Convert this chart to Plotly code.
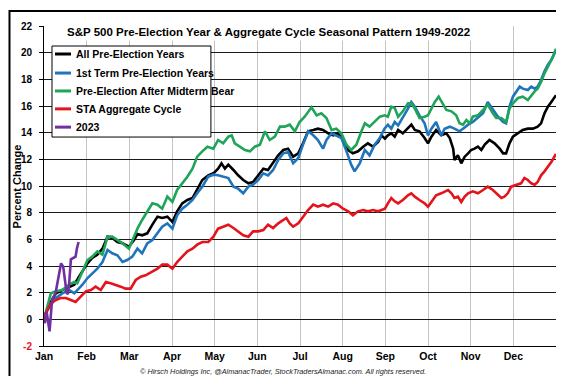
import plotly.graph_objects as go

# ---------------- data (x = position in months from Jan 1, y = % change) ----------------
months = ["Jan", "Feb", "Mar", "Apr", "May", "Jun", "Jul", "Aug", "Sep", "Oct", "Nov", "Dec"]
y_ticks = [-2, 0, 2, 4, 6, 8, 10, 12, 14, 16, 18, 20, 22]

all_pre_x = [0,0.04,0.16,0.28,0.43,0.59,0.71,0.82,0.90,1.02,1.13,1.25,1.37,1.49,1.60,1.72,1.84,1.99,2.11,2.19,2.30,2.42,2.54,2.66,2.77,2.89,3.01,3.12,3.24,3.36,3.48,3.59,3.71,3.85,3.97,4.08,4.16,4.24,4.32,4.44,4.55,4.67,4.79,4.90,5.02,5.14,5.25,5.37,5.49,5.61,5.72,5.84,5.96,6.07,6.19,6.31,6.42,6.54,6.66,6.78,6.89,7.01,7.13,7.24,7.36,7.48,7.59,7.71,7.83,7.91,7.99,8.06,8.14,8.22,8.30,8.41,8.53,8.61,8.69,8.80,8.92,9.0,9.08,9.19,9.31,9.43,9.51,9.59,9.62,9.70,9.78,9.86,9.94,10.01,10.09,10.17,10.25,10.33,10.44,10.56,10.68,10.76,10.83,10.91,10.99,11.11,11.22,11.34,11.46,11.57,11.65,11.73,11.81,11.89,12.0]
all_pre_y = [0,0.45,1.3,1.95,2.2,2.45,2.6,3.2,3.6,4.2,4.6,4.85,5.3,6.2,6.1,5.8,5.7,5.45,5.95,6.4,6.3,6.45,7.1,7.7,7.6,7.7,7.3,8.1,8.7,8.95,9.1,9.7,10.45,10.8,10.95,11.3,11.7,11.3,11.6,11.2,10.8,10.45,10.2,10.3,10.8,11.3,11.2,11.8,12.3,12.7,12.8,12.2,12.45,13.2,14.1,14.2,14.3,14.2,13.95,13.8,13.95,13.45,12.7,12.45,12.6,12.95,13.2,12.95,13.3,13.8,13.55,13.8,13.95,13.7,14.2,13.95,14.3,14.6,14.2,14.1,13.6,13.2,13.7,14.2,13.8,13.95,13.6,12.8,11.95,12.3,11.7,12.2,12.45,12.7,12.8,12.95,12.7,13.1,13.45,13.2,12.8,12.45,12.45,13.2,13.7,13.95,14.2,14.3,14.3,14.45,14.7,15.45,15.95,16.3,16.8]

first_term_x = [0,0.04,0.16,0.28,0.43,0.59,0.71,0.82,0.90,1.02,1.13,1.25,1.37,1.49,1.60,1.72,1.84,1.95,2.07,2.19,2.30,2.42,2.54,2.66,2.77,2.89,3.01,3.12,3.24,3.36,3.48,3.59,3.71,3.85,3.97,4.08,4.20,4.32,4.44,4.55,4.67,4.79,4.90,5.02,5.14,5.25,5.37,5.49,5.61,5.72,5.84,5.96,6.07,6.19,6.31,6.42,6.54,6.62,6.74,6.85,6.97,7.09,7.20,7.28,7.40,7.52,7.63,7.75,7.87,7.98,8.06,8.14,8.22,8.30,8.41,8.53,8.61,8.69,8.80,8.92,9.0,9.08,9.19,9.31,9.39,9.51,9.62,9.74,9.82,9.94,10.05,10.17,10.29,10.40,10.52,10.64,10.76,10.83,10.87,10.91,10.99,11.07,11.15,11.22,11.34,11.42,11.50,11.57,11.65,11.73,11.81,11.89,12.0]
first_term_y = [0,0.45,1.1,1.6,1.95,2.2,1.95,2.3,2.6,3.1,3.45,3.8,4.3,5.2,4.95,4.8,4.3,4.45,4.7,5.3,4.95,5.7,5.95,6.45,6.95,7.2,6.8,7.8,8.3,8.6,8.95,9.45,9.95,10.7,10.85,10.8,10.7,10.6,9.95,9.8,9.45,9.95,10.1,10.45,10.95,10.8,11.2,11.95,12.45,12.55,11.7,12.1,13.1,14.1,13.8,13.45,12.8,13.45,13.95,13.8,13.6,12.6,11.6,11.1,11.7,12.7,12.3,13.1,13.6,14.3,14.6,14.3,14.8,14.55,15.1,15.8,16.3,15.95,15.3,14.7,13.8,14.3,14.8,13.8,14.3,14.45,14.3,14.1,14.3,14.6,14.8,15.1,15.45,16.3,15.7,15.2,14.8,14.7,15.3,15.95,16.7,17.1,17.45,17.3,17.2,17.45,17.3,17.45,17.95,18.6,19.1,19.45,20.2]

midterm_bear_x = [0,0.04,0.12,0.16,0.28,0.43,0.59,0.71,0.78,0.90,1.02,1.13,1.25,1.37,1.49,1.60,1.72,1.84,1.99,2.07,2.19,2.30,2.42,2.54,2.66,2.77,2.89,3.01,3.12,3.24,3.36,3.48,3.59,3.71,3.83,3.97,4.08,4.20,4.32,4.40,4.47,4.59,4.71,4.83,4.94,5.06,5.18,5.29,5.41,5.53,5.64,5.76,5.88,5.99,6.11,6.27,6.39,6.50,6.62,6.74,6.85,6.97,7.09,7.20,7.32,7.44,7.52,7.63,7.75,7.87,7.99,8.06,8.14,8.22,8.30,8.41,8.53,8.61,8.69,8.80,8.92,9.0,9.08,9.16,9.25,9.35,9.43,9.55,9.66,9.74,9.82,9.90,9.98,10.05,10.17,10.29,10.40,10.52,10.60,10.72,10.83,10.91,10.99,11.11,11.22,11.34,11.42,11.50,11.57,11.65,11.73,11.85,11.93,12.0]
midterm_bear_y = [0,0.45,1.3,1.95,2.1,2.2,2.6,2.8,2.7,3.6,4.45,4.7,5.1,4.85,6.2,6.2,5.95,5.7,5.3,5.95,6.8,7.45,8.1,8.7,8.6,8.3,9.2,8.8,9.7,10.2,10.7,11.3,12.2,12.6,12.95,12.8,13.45,13.2,13.7,13.8,13.2,12.95,12.7,12.6,12.95,13.1,14.1,13.45,13.7,14.45,14.45,14.6,14.1,14.8,15.2,15.9,15.3,15.45,15.1,14.2,14.3,13.95,13.1,12.7,13.1,14.1,14.7,14.45,14.8,15.2,15.3,15.2,15.95,15.85,15.2,15.6,16.2,16.2,15.8,15.1,15.2,15.3,15.8,16.3,16.7,16.2,15.7,15.6,15.3,14.7,14.6,14.95,14.7,15.2,15.3,15.7,16.1,15.45,15.1,15.1,14.8,15.8,16.2,16.6,16.7,16.45,16.8,17.1,17.3,17.8,18.45,19.2,19.7,20.3]

sta_aggregate_x = [0,0.04,0.16,0.28,0.39,0.51,0.63,0.74,0.86,0.98,1.10,1.21,1.33,1.45,1.56,1.68,1.80,1.91,2.03,2.15,2.27,2.38,2.54,2.66,2.77,2.89,3.01,3.12,3.24,3.36,3.48,3.59,3.71,3.85,3.97,4.08,4.20,4.32,4.44,4.55,4.67,4.79,4.90,5.02,5.14,5.25,5.37,5.49,5.61,5.68,5.76,5.84,5.96,6.07,6.19,6.31,6.42,6.54,6.66,6.78,6.89,7.01,7.13,7.24,7.36,7.48,7.59,7.71,7.83,7.91,7.99,8.06,8.14,8.22,8.30,8.41,8.53,8.61,8.69,8.80,8.92,9.0,9.08,9.19,9.31,9.39,9.47,9.55,9.62,9.70,9.78,9.86,9.94,10.05,10.17,10.29,10.40,10.52,10.64,10.72,10.79,10.87,10.95,11.07,11.18,11.26,11.34,11.42,11.50,11.57,11.65,11.73,11.81,11.89,12.0]
sta_aggregate_y = [0,0.45,1.2,1.45,1.6,1.6,1.45,1.3,1.7,2.1,2.2,2.45,2.2,2.8,2.7,2.6,2.45,2.3,2.3,2.95,3.2,3.3,3.6,3.8,4.1,4.1,3.8,4.3,4.7,5.1,5.3,5.6,5.8,5.8,6.2,6.8,6.95,7.1,6.85,6.6,6.3,6.2,6.6,6.6,6.7,7.1,6.85,7.2,7.45,7.6,7.2,6.95,7.2,7.7,8.2,8.6,8.45,8.6,8.45,8.7,8.6,8.3,8.1,7.8,8.1,8.2,8.1,8.2,8.1,8.2,8.3,8.7,9.1,8.85,8.7,8.95,9.3,9.45,9.2,8.95,8.7,8.45,8.85,9.3,9.45,9.6,9.7,9.45,9.1,9.2,8.8,9.2,9.45,9.6,9.45,9.7,9.95,9.7,9.3,9.1,9.2,9.45,9.95,10.1,10.2,10.6,10.45,10.2,10.1,10.3,10.8,11.1,11.45,11.8,12.4]

y2023_x = [0.02,0.06,0.13,0.19,0.27,0.33,0.40,0.45,0.49,0.53,0.56,0.59,0.63,0.70,0.74,0.77,0.81]
y2023_y = [-0.3,0.6,-0.9,1.5,1.95,3.0,4.2,3.95,2.8,2.0,1.9,2.7,4.5,4.6,4.7,5.3,5.8]

series_names = ["All Pre-Election Years", "1st Term Pre-Election Years",
                "Pre-Election After Midterm Bear", "STA Aggregate Cycle", "2023"]
series_x = [all_pre_x, first_term_x, midterm_bear_x, sta_aggregate_x, y2023_x]
series_y = [all_pre_y, first_term_y, midterm_bear_y, sta_aggregate_y, y2023_y]
series_colors = ["#000000", "#1F74BC", "#1FA45A", "#E3141C", "#7030A0"]

FONT = "Liberation Sans, Arial, sans-serif"

fig = go.Figure()
for name, xs, ys, col in zip(series_names, series_x, series_y, series_colors):
    fig.add_trace(go.Scatter(x=xs, y=ys, mode="lines", name=name, showlegend=False,
                             line=dict(color=col, width=2.6)))

tick_text = ['<span style="color:#E3141C">-2</span>'] + [str(v) for v in y_ticks[1:]]

fig.update_layout(
    width=564, height=376,
    margin=dict(l=36, r=16, t=18, b=38),
    paper_bgcolor="white", plot_bgcolor="white",
    font=dict(family=FONT, color="#000000", size=11),
    showlegend=False,
    xaxis=dict(range=[0, 12], tickvals=list(range(13)), ticktext=months + [""],
               showgrid=True, gridcolor="#c4c4c4", gridwidth=1, automargin=False,
               showline=True, linecolor="black", linewidth=1, ticks="",
               zeroline=False, tickfont=dict(family=FONT, size=10.5, weight="bold")),
    yaxis=dict(range=[-2, 22], tickvals=y_ticks, ticktext=tick_text, automargin=False,
               showgrid=True, gridcolor="#1a1a1a", gridwidth=1,
               showline=True, linecolor="black", linewidth=1,
               ticks="outside", ticklen=4, tickcolor="black", ticklabelstandoff=5,
               zeroline=False, tickfont=dict(family=FONT, size=10, weight="bold")),
)

# y-axis title
fig.add_annotation(text="Percent Change", xref="paper", yref="paper",
                   x=-0.052, y=0.5, xanchor="center", yanchor="middle", textangle=-90,
                   showarrow=False, font=dict(family=FONT, size=11, weight="bold"))

# chart title sitting on the top gridline
fig.add_annotation(
    text="S&amp;P 500 Pre-Election Year &amp; Aggregate Cycle Seasonal Pattern 1949-2022",
    xref="paper", yref="paper", x=0.439, y=0.981, xanchor="center", yanchor="middle",
    showarrow=False, bgcolor="white", borderpad=2,
    font=dict(family=FONT, size=11.5, weight="bold", color="black"))

# footer
fig.add_annotation(
    text="© Hirsch Holdings Inc, @AlmanacTrader, StockTradersAlmanac.com. All rights reserved.",
    xref="paper", yref="paper", x=0.467, y=-0.081, xanchor="center", yanchor="middle",
    showarrow=False,
    font=dict(family=FONT, size=7.3, style="italic", color="#222222"))

# legend box (drawn manually to match the short line samples)
fig.add_shape(type="rect", xref="paper", yref="paper", x0=0.0156, x1=0.326, y0=0.653, y1=0.9375,
              line=dict(color="black", width=1), fillcolor="white", layer="above")
legend_rows = [0.9125, 0.853, 0.797, 0.741, 0.684]
for name, col, ly in zip(series_names, series_colors, legend_rows):
    fig.add_shape(type="line", xref="paper", yref="paper", x0=0.0215, x1=0.0527, y0=ly, y1=ly,
                  line=dict(color=col, width=3), layer="above")
    fig.add_annotation(text=name, xref="paper", yref="paper", x=0.0586, y=ly,
                       xanchor="left", yanchor="middle", showarrow=False,
                       font=dict(family=FONT, size=10.5, weight="bold", color="black"))

# outer frame
fig.add_shape(type="rect", xref="paper", yref="paper",
              x0=-0.0674, x1=1.0244, y0=-0.1047, y1=1.0469,
              line=dict(color="black", width=2), fillcolor="rgba(0,0,0,0)", layer="above")

fig.write_html("out.html")
